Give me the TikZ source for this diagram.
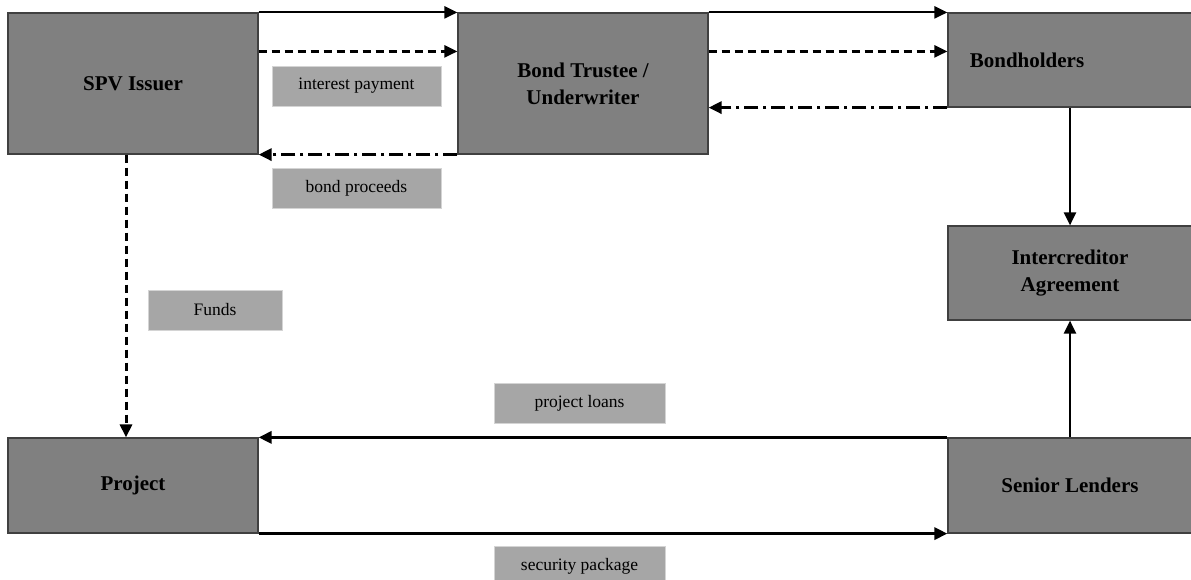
\documentclass[tikz,border=0pt]{standalone}
\usepackage{fontspec}
\setmainfont{Liberation Serif}
\usetikzlibrary{arrows.meta}
\definecolor{boxgray}{HTML}{808080}
\definecolor{boxline}{HTML}{404040}
\definecolor{labgray}{HTML}{A6A6A6}
\definecolor{labline}{HTML}{D4D4D4}
\tikzset{
  party/.style={draw=boxline, line width=1.2pt, fill=boxgray, inner sep=0pt, align=center,
    font=\fontsize{21}{27}\selectfont\bfseries},
  lab/.style={draw=labline, line width=0.8pt, fill=labgray, inner sep=0pt,
    minimum height=40pt, font=\fontsize{17.5}{20}\selectfont},
  tip/.style={-{Triangle[length=13pt,width=12pt]}},
  flow/.style={tip, line width=2.2pt},
  bigflow/.style={tip, line width=3.4pt},
  dashflow/.style={tip, line width=2.4pt, dash pattern=on 8pt off 5pt},
  dashdotflow/.style={tip, line width=3pt, dash pattern=on 14pt off 5pt on 3pt off 5pt},
}
\begin{document}
\begin{tikzpicture}[x=1pt,y=-1pt]
\useasboundingbox (0,0) rectangle (1191,580);
% parties
\node[party, minimum width=250pt, minimum height=141pt] (spv) at (133,83.5) {SPV Issuer};
\node[party, minimum width=250pt, minimum height=141pt] (bond) at (583,83.5) {Bond Trustee /\\Underwriter};
\node[party, minimum width=244pt, minimum height=94pt] (bh) at (1070,60) {Bondholders\hspace*{86pt}};
\node[party, minimum width=244pt, minimum height=94pt] (ica) at (1070,273) {Intercreditor\\Agreement};
\node[party, minimum width=250pt, minimum height=95pt] (proj) at (133,485.5) {Project};
\node[party, minimum width=244pt, minimum height=95pt] (sl) at (1070,485.5) {Senior Lenders};
% labels
\node[lab, minimum width=169pt] (lint) at (356.5,86) {interest payment};
\node[lab, minimum width=169pt] (lbp) at (356.5,188) {bond proceeds};
\node[lab, minimum width=134pt] (lfunds) at (215,310) {Funds};
\node[lab, minimum width=171pt] (lpl) at (579.5,403) {project loans};
\node[lab, minimum width=171pt] (lsp) at (579.5,566) {security package};
% connectors
\draw[flow] (spv.north east) -- (bond.north west);
\draw[flow] (bond.north east) -- (bh.north west);
\draw[dashflow] ([yshift=-39pt]spv.north east) -- ([yshift=-39pt]bond.north west);
\draw[dashflow] ([yshift=-39pt]bond.north east) -- ([yshift=-39pt]bh.north west);
\draw[dashdotflow] (bond.south west) -- (spv.south east);
\draw[dashdotflow] (bh.south west) -- (bond.east |- bh.south west);
\draw[tip, line width=3pt, dash pattern=on 8pt off 5pt] ([xshift=-7pt]spv.south) -- ([xshift=-7pt]proj.north);
\draw[flow] (bh.south) -- (ica.north);
\draw[flow] (sl.north) -- (ica.south);
\draw[bigflow] (sl.north west) -- (proj.north east);
\draw[bigflow] (proj.south east) -- (sl.south west);
\end{tikzpicture}
\end{document}
